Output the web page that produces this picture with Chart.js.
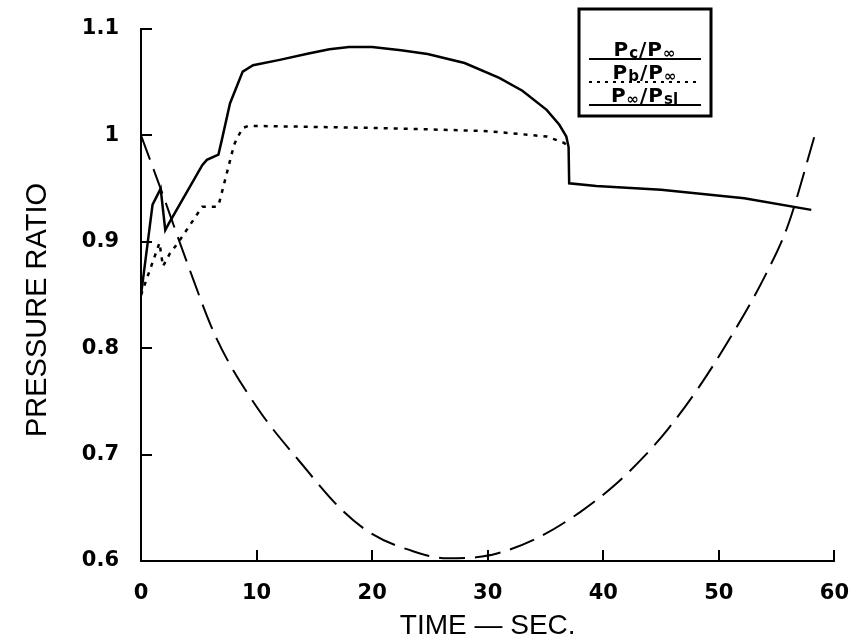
<!DOCTYPE html>
<html>
<head>
<meta charset="utf-8">
<script src="https://cdn.jsdelivr.net/npm/chart.js@4"></script>
<style>
  html, body { margin: 0; padding: 0; background: #fff; }
  #wrap { width: 861px; height: 643px; }
</style>
</head>
<body>
<div id="wrap"><canvas id="chart" width="861" height="643"></canvas></div>
<script>
// P_c / P_inf  (solid)
const pcTime = [0, 1.0, 1.7, 2.1, 2.4, 5.3, 5.7, 6.7, 7.0, 7.7, 8.8, 9.7, 12, 14.5, 16.3, 18, 20, 22.5, 24.8, 28, 31, 33, 35.1, 36.2, 36.8, 37.0, 37.05, 39.4, 45, 52.2, 58];
const pcVals = [0.85, 0.935, 0.95, 0.911, 0.917, 0.972, 0.977, 0.982, 0.996, 1.030, 1.060, 1.066, 1.071, 1.077, 1.081, 1.083, 1.083, 1.080, 1.0765, 1.068, 1.054, 1.042, 1.024, 1.010, 0.999, 0.989, 0.955, 0.9525, 0.949, 0.941, 0.93];

// P_b / P_inf  (dotted)
const pbTime = [0, 1.6, 1.9, 2.5, 3.2, 5.3, 6.6, 6.8, 8.05, 8.3, 8.8, 9.3, 15, 20, 24.8, 30, 35.1, 36.6, 37.0];
const pbVals = [0.85, 0.899, 0.877, 0.889, 0.899, 0.933, 0.933, 0.938, 0.991, 0.997, 1.007, 1.009, 1.008, 1.007, 1.0057, 1.004, 0.999, 0.993, 0.99];

// P_inf / P_sl  (long dash)
const psTime = [0, 1.7, 4, 6.5, 10, 14, 17.1, 19.9, 23.6, 26.5, 29, 30.8, 34.2, 38, 41, 43.6, 45.6, 48, 51, 54, 56, 58.3];
const psVals = [1.0, 0.95, 0.88, 0.81, 0.745, 0.69, 0.651, 0.626, 0.609, 0.6025, 0.6035, 0.607, 0.621, 0.646, 0.6715, 0.699, 0.724, 0.759, 0.81, 0.868, 0.916, 1.0];

const xTicks = [0, 10, 20, 30, 40, 50, 60];
const yTicks = [0.6, 0.7, 0.8, 0.9, 1, 1.1];
const xTitle = 'TIME \u2014 SEC.';
const yTitle = 'PRESSURE RATIO';

function toPoints(ts, vs) {
  return ts.map((t, i) => ({ x: t, y: vs[i] }));
}

// inward tick marks + axis titles
const axisExtras = {
  id: 'axisExtras',
  afterDraw(chart) {
    const ctx = chart.ctx;
    const xs = chart.scales.x;
    const ys = chart.scales.y;
    ctx.save();
    ctx.strokeStyle = '#000';
    ctx.lineWidth = 2;
    ctx.beginPath();
    xTicks.forEach(v => {
      const px = Math.round(xs.getPixelForValue(v));
      ctx.moveTo(px, ys.bottom);
      ctx.lineTo(px, ys.bottom - 11);
    });
    yTicks.forEach(v => {
      const py = Math.round(ys.getPixelForValue(v));
      ctx.moveTo(xs.left, py);
      ctx.lineTo(xs.left + 11, py);
    });
    ctx.stroke();

    ctx.fillStyle = '#000';
    ctx.font = '28px "Liberation Sans"';
    ctx.textAlign = 'center';
    ctx.textBaseline = 'middle';
    ctx.fillText(xTitle, (xs.left + xs.right) / 2, 626);

    ctx.translate(38, 310);
    ctx.rotate(-Math.PI / 2);
    ctx.font = '29px "Liberation Sans"';
    ctx.fillText(yTitle, 0, 0);
    ctx.restore();
  }
};

// boxed legend with subscripts
const boxLegend = {
  id: 'boxLegend',
  afterDraw(chart) {
    const ctx = chart.ctx;
    const rows = [
      { parts: [['P', 0], ['c', 1], ['/', 0], ['P', 0], ['\u221E', 1]], dash: [], y: 59 },
      { parts: [['P', 0], ['b', 1], ['/', 0], ['P', 0], ['\u221E', 1]], dash: [3, 5], y: 82 },
      { parts: [['P', 0], ['\u221E', 1], ['/', 0], ['P', 0], ['sl', 1]], dash: [], y: 105 }
    ];
    const big = 'bold 20px "DejaVu Sans"';
    const small = 'bold 15px "DejaVu Sans"';
    ctx.save();
    ctx.strokeStyle = '#000';
    ctx.fillStyle = '#000';
    ctx.lineWidth = 3;
    ctx.strokeRect(579, 9, 132, 107);
    rows.forEach(r => {
      let w = 0;
      r.parts.forEach(p => {
        ctx.font = p[1] ? small : big;
        w += ctx.measureText(p[0]).width + 1;
      });
      let x = 645 - w / 2;
      r.parts.forEach(p => {
        ctx.font = p[1] ? small : big;
        ctx.fillText(p[0], x, r.y - 3 + (p[1] ? 2 : 0));
        x += ctx.measureText(p[0]).width + 1;
      });
      ctx.lineWidth = 2;
      ctx.setLineDash(r.dash);
      ctx.beginPath();
      ctx.moveTo(589, r.y);
      ctx.lineTo(701, r.y);
      ctx.stroke();
      ctx.setLineDash([]);
    });
    ctx.restore();
  }
};

new Chart(document.getElementById('chart'), {
  type: 'line',
  data: {
    datasets: [
      { label: 'Pc/P\u221E', data: toPoints(pcTime, pcVals), borderColor: '#000', borderWidth: 2.5, pointRadius: 0, tension: 0 },
      { label: 'Pb/P\u221E', data: toPoints(pbTime, pbVals), borderColor: '#000', borderWidth: 2.5, borderDash: [4, 6], pointRadius: 0, tension: 0 },
      { label: 'P\u221E/Psl', data: toPoints(psTime, psVals), borderColor: '#000', borderWidth: 2, borderDash: [26, 10], pointRadius: 0, cubicInterpolationMode: 'monotone' }
    ]
  },
  options: {
    responsive: false,
    animation: false,
    layout: { padding: { top: 29, right: 20, left: 0, bottom: 0 } },
    plugins: { legend: { display: false }, tooltip: { enabled: false } },
    scales: {
      x: {
        type: 'linear',
        min: 0, max: 60,
        afterBuildTicks: s => { s.ticks = xTicks.map(v => ({ value: v })); },
        afterFit: s => { s.height = 82; },
        grid: { display: false },
        border: { display: true, color: '#000', width: 2 },
        ticks: { color: '#000', padding: 12, font: { family: 'DejaVu Sans', size: 21, weight: 'bold' } }
      },
      y: {
        type: 'linear',
        min: 0.6, max: 1.1,
        afterBuildTicks: s => { s.ticks = yTicks.map(v => ({ value: v })); },
        afterFit: s => { s.width = 141; },
        grid: { display: false },
        border: { display: true, color: '#000', width: 2 },
        ticks: { color: '#000', padding: 14, font: { family: 'DejaVu Sans', size: 21, weight: 'bold' },
                 callback: v => String(Math.round(v * 10) / 10) }
      }
    }
  },
  plugins: [axisExtras, boxLegend]
});
</script>
</body>
</html>
